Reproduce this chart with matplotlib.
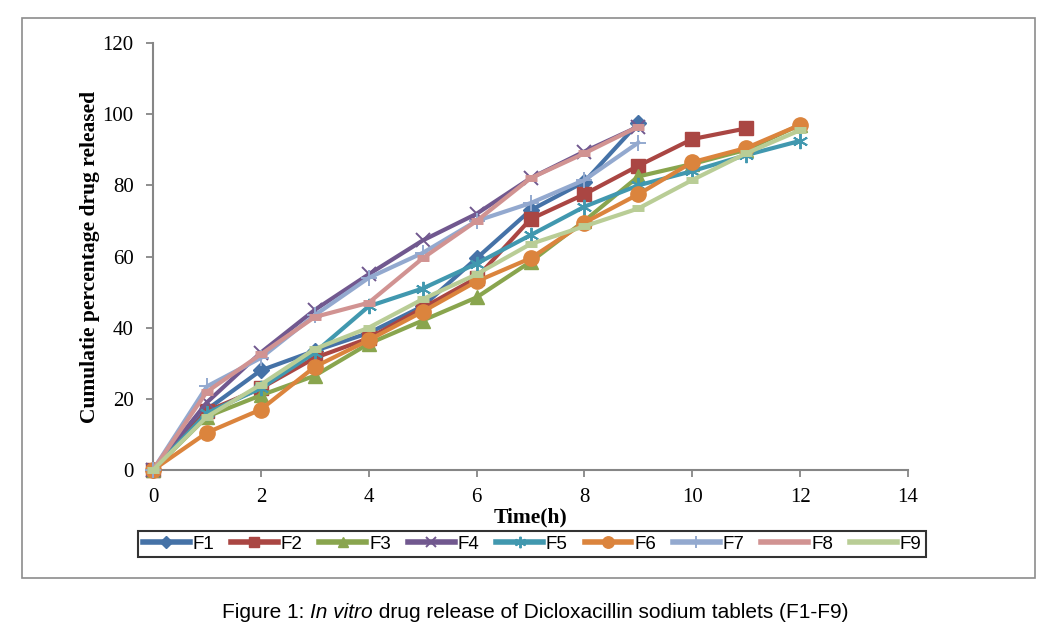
import matplotlib
matplotlib.use("Agg")
import matplotlib.pyplot as plt
from matplotlib.patches import Rectangle

# release data (cumulative %)
t9 = [0, 1, 2, 3, 4, 5, 6, 7, 8, 9]
t11 = [0, 1, 2, 3, 4, 5, 6, 7, 8, 9, 10, 11]
t12 = [0, 1, 2, 3, 4, 5, 6, 7, 8, 9, 10, 11, 12]

F1 = [0, 17, 28, 33.5, 38.5, 46, 59.5, 73, 81, 97.5]
F2 = [0, 16.5, 23, 31.5, 37, 45.5, 54, 70.5, 77.5, 85.5, 93, 96]
F3 = [0, 15, 21, 26.5, 35.5, 42, 48.5, 58.5, 70, 82.5, 86, 90, 97]
F4 = [0, 19, 33, 45, 55, 64.5, 72, 82, 89.5, 96.5]
F5 = [0, 16, 23, 33, 46, 51, 58, 66, 74, 80, 84, 88.5, 92.5]
F6 = [0, 10.5, 17, 29, 36.5, 44.5, 53, 59.5, 69.5, 77.5, 86.5, 90.5, 97]
F7 = [0, 23.5, 31.5, 43.5, 54, 61, 70, 75, 81.5, 92]
F8 = [0, 22, 32.5, 43, 47, 59.5, 70, 82, 89, 96.5]
F9 = [0, 15, 24, 34, 40, 48, 55, 63.5, 68.5, 73.5, 81.5, 89, 95.5]

series = [
    ('F1', t9, F1, '#4572A7', 'D', 8),
    ('F2', t11, F2, '#AA4643', 's', 10),
    ('F3', t12, F3, '#89A54E', '^', 10),
    ('F4', t9, F4, '#71588F', 'x', 10),
    ('F5', t12, F5, '#4198AF', (6, 2, 0), 11),
    ('F6', t12, F6, '#DB843D', 'o', 11),
    ('F7', t9, F7, '#93A9CF', '+', 12),
    ('F8', t9, F8, '#D19392', '_', 9),
    ('F9', t12, F9, '#B9CD96', '_', 9),
]

fig = plt.figure(figsize=(10.59, 6.34), dpi=100)
ax = fig.add_axes([153/1059, 1-470/634, (908-153)/1059, (470-43)/634])

for name, t, y, c, m, ms in series:
    if m in ('x', '+', '_') or isinstance(m, tuple):
        mew = 5 if m == '_' else 1.4
        ax.plot(t, y, '-', color=c, lw=3, marker=m, ms=ms, mew=mew,
                label=name, clip_on=False, zorder=3)
    else:
        ax.plot(t, y, '-', color=c, lw=3, marker=m, ms=ms, mec=c,
                label=name, clip_on=False, zorder=3)

ax.set_xlim(0, 14)
ax.set_ylim(0, 120)
ax.set_xticks(range(0, 15, 2))
ax.set_yticks(range(0, 121, 20))
for s in ['top', 'right']:
    ax.spines[s].set_visible(False)
for s in ['left', 'bottom']:
    ax.spines[s].set_color('#868686')
    ax.spines[s].set_linewidth(1.5)
ax.tick_params(direction='out', length=5, width=1.3, color='#868686',
               labelsize=15)
ax.tick_params(axis='x', pad=8)
ax.tick_params(axis='y', pad=9)
for lab in ax.get_xticklabels() + ax.get_yticklabels():
    lab.set_fontfamily('Liberation Serif')

ax.set_xlabel('Time(h)', fontfamily='Liberation Serif', fontweight='bold',
              fontsize=15.5, labelpad=0)
ax.set_ylabel('Cumulatie percentage drug released', fontfamily='Liberation Serif',
              fontweight='bold', fontsize=15.5, labelpad=2)

leg = fig.legend(loc='center', bbox_to_anchor=(532/1059, 1-544/634), ncol=9,
                 frameon=True, fancybox=False, handlelength=2.5,
                 columnspacing=0.9, handletextpad=0.15, borderpad=0.25,
                 borderaxespad=0, markerscale=0.75,
                 prop={'family': 'Liberation Sans', 'size': 13.5})
leg.get_frame().set_edgecolor('black')
leg.get_frame().set_linewidth(1.5)
for h in leg.legend_handles:
    h.set_linewidth(4)
    if h.get_marker() == '_':
        h.set_marker('None')

# outer frame
fig.patches.append(Rectangle((22/1059, 1-578/634), (1035-22)/1059, (578-18)/634,
                             transform=fig.transFigure, fill=False,
                             edgecolor='#8c8c8c', linewidth=1.2))

# caption
t1 = fig.text(222/1059, 1-612/634, 'Figure 1: ', fontsize=15,
              fontfamily='Liberation Sans', va='center')
a2 = ax.annotate('In vitro', xy=(1, 0), xycoords=t1, va='bottom', ha='left',
                 fontsize=15, fontfamily='Liberation Sans', fontstyle='italic',
                 annotation_clip=False)
a3 = ax.annotate(' drug release of Dicloxacillin sodium tablets (F1-F9)', xy=(1, 0),
                 xycoords=a2, va='bottom', ha='left', fontsize=15,
                 fontfamily='Liberation Sans', annotation_clip=False)

fig.savefig('out.png', dpi=100)
